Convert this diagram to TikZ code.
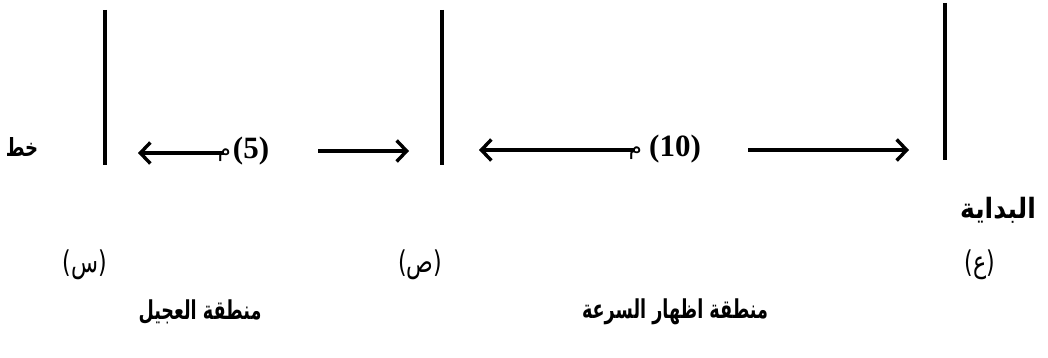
\documentclass[tikz,border=0pt]{standalone}
\usepackage{fontspec}
\setmainfont{Liberation Serif}
\newfontfamily\arabicfont[Script=Arabic]{DejaVu Sans}
\TeXXeTstate=1
\usetikzlibrary{arrows.meta}
\begin{document}
\begin{tikzpicture}[x=1pt,y=-1pt,
  post/.style={line width=4pt},
  arr/.style={line width=3.6pt,-{Straight Barb[length=10pt,width=21pt,line width=3.4pt]}},
  lbl/.style={inner sep=0pt,font=\arabicfont\bfseries\fontsize{20}{24}\selectfont},
  sym/.style={inner sep=0pt,font=\arabicfont\fontsize{26}{30}\selectfont},
  num/.style={inner sep=0pt,font=\bfseries\fontsize{31}{34}\selectfont},
  unit/.style={inner sep=0pt,font=\arabicfont\fontsize{21}{24}\selectfont}]
\useasboundingbox (0,0) rectangle (1048,358);
% posts
\coordinate (p1t) at (105,10); \coordinate (p1b) at (105,165);
\coordinate (p2t) at (442,10); \coordinate (p2b) at (442,165);
\coordinate (p3t) at (945,3);  \coordinate (p3b) at (945,160);
\draw[post] (p1t) -- (p1b);
\draw[post] (p2t) -- (p2b);
\draw[post] (p3t) -- (p3b);
% labels near lines
\node[lbl] (khat) at (22,147) {\scalebox{0.9}[1.25]{\beginR خط\endR}};
\node[lbl] (bidaya) at (998,210) {\scalebox{1.25}[1.4]{\beginR البداية\endR}};
\node[sym] (ain) at (980,265) {\scalebox{0.85}[1.15]{\beginR (ع)\endR}};
\node[sym] (sad) at (420,265) {\scalebox{0.85}[1.15]{\beginR (ص)\endR}};
\node[sym] (sin) at (85,265) {\scalebox{0.85}[1.15]{\beginR (س)\endR}};
\node[lbl] (z1) at (200,312) {\scalebox{0.88}[1.3]{\beginR منطقة العجيل\endR}};
\node[lbl] (z2) at (675,312) {\scalebox{0.88}[1.3]{\beginR منطقة اظهار السرعة\endR}};
% distances
\node[num] (n5) at (251,151) {(5)};
\node[unit,anchor=base east] (m5) at (231,157) {\beginR م\endR};
\node[num] (n10) at (675,149) {(10)};
\node[unit,anchor=base east] (m10) at (642,155) {\beginR م\endR};
\coordinate (t1) at (138,153);
\coordinate (s2) at (318,151); \coordinate (t2) at (409,151);
\coordinate (t3) at (479,150);
\coordinate (s4) at (748,150); \coordinate (t4) at (909,150);
\draw[arr] (m5.center |- t1) -- (t1);
\draw[arr] (s2) -- (t2);
\draw[arr] (m10.center |- t3) -- (t3);
\draw[arr] (s4) -- (t4);
\end{tikzpicture}
\end{document}
